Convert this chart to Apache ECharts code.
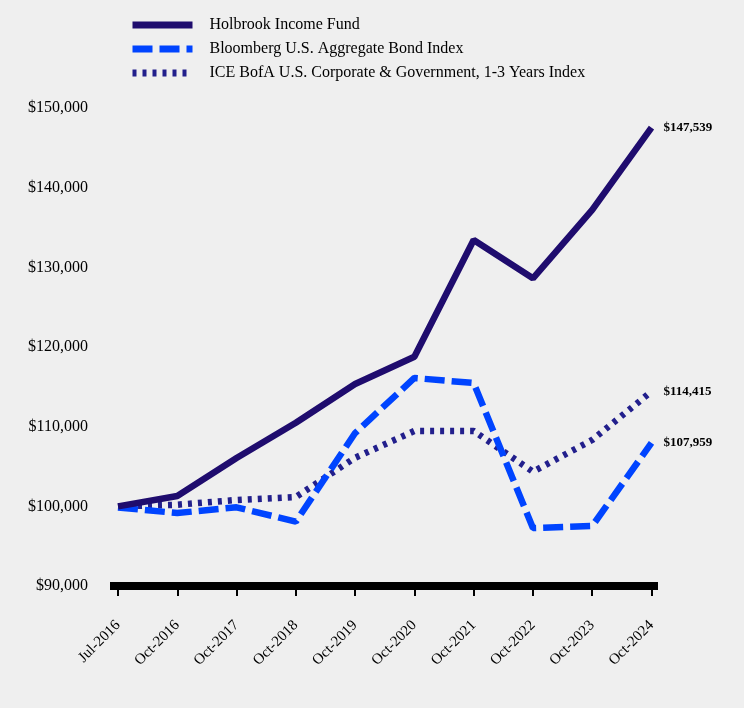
<!DOCTYPE html>
<html>
<head>
<meta charset="utf-8">
<script src="https://cdn.jsdelivr.net/npm/echarts@6/dist/echarts.min.js"></script>
<style>
html,body{margin:0;padding:0;background:#efefef;}
#c{width:744px;height:708px;}
</style>
</head>
<body>
<div id="c"></div>
<script>
const categories = ['Jul-2016','Oct-2016','Oct-2017','Oct-2018','Oct-2019','Oct-2020','Oct-2021','Oct-2022','Oct-2023','Oct-2024'];
const holbrook = [100000, 101300, 106070, 110500, 115360, 118780, 133430, 128620, 137200, 147539];
const bloomberg = [99850, 99160, 99880, 98070, 109200, 116110, 115480, 97280, 97530, 107959];
const ice = [100000, 100200, 100800, 101170, 106100, 109460, 109460, 104350, 108330, 114415];
const seriesNames = ['Holbrook Income Fund','Bloomberg U.S. Aggregate Bond Index','ICE BofA U.S. Corporate & Government, 1-3 Years Index'];
const yTicks = [90000, 100000, 110000, 120000, 130000, 140000, 150000];

const idx = categories.map((c, i) => i);
const toPairs = arr => arr.map((v, i) => [i, v]);
const fmt = v => '$' + Math.round(v).toLocaleString('en-US');
const serif = '"Liberation Serif","Times New Roman",serif';

const chart = echarts.init(document.getElementById('c'), null, {renderer: 'canvas'});
const endLabel = {
  show: true,
  distance: 12,
  fontFamily: serif,
  fontSize: 13,
  fontWeight: 'bold',
  color: '#000',
  formatter: p => fmt(p.value[1])
};
chart.setOption({
  backgroundColor: '#efefef',
  animation: false,
  legend: {
    orient: 'vertical',
    left: 124,
    top: 12,
    itemWidth: 60,
    itemHeight: 14,
    itemGap: 8,
    itemStyle: {opacity: 0},
    lineStyle: {width: 7},
    textStyle: {fontFamily: serif, fontSize: 16, color: '#000', padding: [0, 0, 0, 12], lineHeight: 14},
    data: seriesNames
  },
  grid: {left: 110, right: 86, top: 108, bottom: 122, containLabel: false},
  xAxis: {
    type: 'value',
    min: -0.135,
    max: 9.11,
    splitLine: {show: false},
    axisLine: {show: true, lineStyle: {color: '#000', width: 8, cap: 'butt'}},
    axisTick: {show: true, customValues: idx, length: 10, lineStyle: {color: '#000', width: 2}},
    axisLabel: {
      customValues: idx,
      rotate: 45,
      margin: 37,
      fontFamily: serif,
      fontSize: 15,
      color: '#000',
      formatter: v => categories[Math.round(v)]
    }
  },
  yAxis: {
    type: 'value',
    min: yTicks[0],
    max: yTicks[yTicks.length - 1],
    interval: 10000,
    splitLine: {show: false},
    axisLine: {show: false},
    axisTick: {show: false},
    axisLabel: {margin: 22, fontFamily: serif, fontSize: 16, color: '#000', formatter: fmt}
  },
  series: [
    {
      name: seriesNames[0], type: 'line', data: toPairs(holbrook),
      symbol: 'none', showSymbol: false, z: 5,
      lineStyle: {color: '#1f0c6e', width: 6.5, type: 'solid'},
      itemStyle: {color: '#1f0c6e'},
      endLabel: endLabel
    },
    {
      name: seriesNames[1], type: 'line', data: toPairs(bloomberg),
      symbol: 'none', showSymbol: false, z: 4,
      lineStyle: {color: '#0044ff', width: 6.5, type: [20, 7]},
      itemStyle: {color: '#0044ff'},
      endLabel: endLabel
    },
    {
      name: seriesNames[2], type: 'line', data: toPairs(ice),
      symbol: 'none', showSymbol: false, z: 3,
      lineStyle: {color: '#221f8c', width: 6.5, type: [4, 6]},
      itemStyle: {color: '#221f8c'},
      endLabel: endLabel
    }
  ]
});
</script>
</body>
</html>
